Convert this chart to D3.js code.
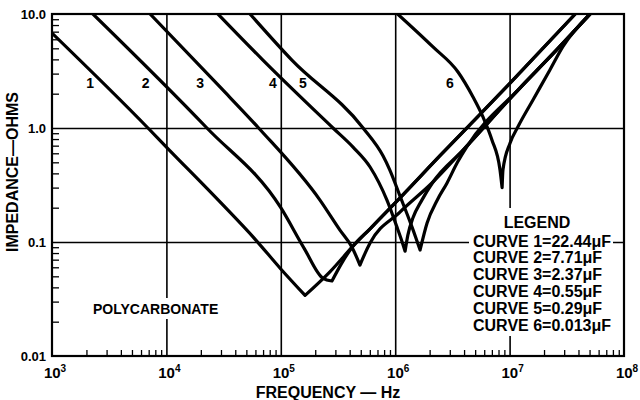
<!DOCTYPE html>
<html>
<head>
<meta charset="utf-8">
<script src="https://cdn.jsdelivr.net/npm/d3@7"></script>
<style>
  html, body { margin: 0; padding: 0; background: #fff; }
  svg { display: block; }
  text { font-family: "Liberation Sans", Arial, Helvetica, sans-serif; font-weight: bold; fill: #000; }
</style>
</head>
<body>
<svg id="chart" width="640" height="400"></svg>
<script>
// Impedance vs frequency of polycarbonate capacitors (log-log)
const curveIds = ["1", "2", "3", "4", "5", "6"];
const capacitance = ["22.44", "7.71", "2.37", "0.55", "0.29", "0.013"];

const curve1Freq = [1e3, 6.9e3, 1e4, 3e4, 6e4, 1e5, 1.63e5, 2.7e5, 4.2e5, 6e5, 1e6, 2.5e6, 1e7, 3.75e7];
const curve1Ohms = [6.8, 1.0, 0.68, 0.22, 0.105, 0.058, 0.034, 0.055, 0.09, 0.13, 0.22, 0.58, 2.45, 10];

const curve2Freq = [2.28e3, 2.26e4, 1e5, 1.6e5, 2.34e5, 2.8e5, 3.4e5, 4.2e5, 6e5, 1e6, 2.5e6, 1e7, 3.75e7];
const curve2Ohms = [10, 1.0, 0.2, 0.088, 0.048, 0.0455, 0.065, 0.09, 0.13, 0.22, 0.58, 2.45, 10];

const curve3Freq = [7.2e3, 2.94e4, 6.4e4, 2.2e5, 3.29e5, 4.19e5, 4.92e5, 5.4e5, 6.03e5, 1.1e6, 2.14e6, 3.92e6, 1.23e7, 2.25e7, 5.05e7];
const curve3Ohms = [10, 2.29, 1.0, 0.233, 0.127, 0.090, 0.0628, 0.078, 0.098, 0.183, 0.336, 0.64, 2.24, 4.2, 10];

const curve4Freq = [2.82e4, 6.98e4, 2.86e5, 4.28e5, 6.03e5, 8.47e5, 1.05e6, 1.15e6, 1.22e6, 1.29e6, 1.43e6, 1.71e6, 2.14e6, 3.92e6, 1.23e7, 2.25e7, 5.05e7];
const curve4Ohms = [10, 3.94, 1.0, 0.68, 0.455, 0.233, 0.13, 0.1, 0.083, 0.115, 0.163, 0.233, 0.336, 0.64, 2.24, 4.2, 10];

const curve5Freq = [5.38e4, 1.25e5, 5.24e5, 7.82e5, 8.96e5, 1.1e6, 1.35e6, 1.52e6, 1.65e6, 1.9e6, 2.34e6, 2.84e6, 3.5e6, 4.25e6, 1.23e7, 2.25e7, 5.05e7];
const curve5Ohms = [10, 3.94, 1.0, 0.57, 0.43, 0.254, 0.15, 0.108, 0.085, 0.147, 0.235, 0.33, 0.5, 0.69, 2.24, 4.2, 10];

const curve6Freq = [1.05e6, 2.14e6, 3.54e6, 4.79e6, 5.85e6, 7.01e6, 8.24e6, 8.6e6, 8.75e6, 1.01e7, 1.18e7, 1.6e7, 2.25e7, 2.93e7, 5.05e7];
const curve6Ohms = [10, 5.14, 3.1, 1.87, 1.25, 0.785, 0.43, 0.3, 0.43, 0.74, 1.02, 1.76, 3.23, 5.2, 10];

// where each curve number is lettered (frequency), all on one row
const labelFreq = [2.15e3, 6.6e3, 1.97e4, 8.55e4, 1.56e5, 3.0e6];
const labelRowOhms = 2.48;

const xTickValues = [1e3, 1e4, 1e5, 1e6, 1e7, 1e8];
const xTickExponents = ["3", "4", "5", "6", "7", "8"];
const yTickValues = [10, 1, 0.1, 0.01];
const yTickLabels = ["10.0", "1.0", "0.1", "0.01"];

const curveFreqs = [curve1Freq, curve2Freq, curve3Freq, curve4Freq, curve5Freq, curve6Freq];
const curveOhms = [curve1Ohms, curve2Ohms, curve3Ohms, curve4Ohms, curve5Ohms, curve6Ohms];

const svg = d3.select("#chart");
const plotLeft = 52, plotRight = 624, plotTop = 14, plotBottom = 356;

const x = d3.scaleLog().domain([1e3, 1e8]).range([plotLeft, plotRight]);
const y = d3.scaleLog().domain([0.01, 10]).range([plotBottom, plotTop]);

svg.append("rect").attr("width", 640).attr("height", 400).attr("fill", "#fff");

svg.append("defs").append("clipPath").attr("id", "plotClip")
  .append("rect").attr("x", plotLeft).attr("y", plotTop)
  .attr("width", plotRight - plotLeft).attr("height", plotBottom - plotTop);

// decade grid lines
const gridX = xTickValues.slice(1, -1);
const gridY = [1, 0.1];
svg.append("g")
  .attr("transform", `translate(0,${plotBottom})`)
  .call(d3.axisBottom(x).tickValues(gridX).tickSize(-(plotBottom - plotTop)).tickFormat(""))
  .call(g => g.select(".domain").remove())
  .call(g => g.selectAll("line").attr("stroke", "#000").attr("stroke-width", 1.6));
svg.append("g")
  .attr("transform", `translate(${plotLeft},0)`)
  .call(d3.axisLeft(y).tickValues(gridY).tickSize(-(plotRight - plotLeft)).tickFormat(""))
  .call(g => g.select(".domain").remove())
  .call(g => g.selectAll("line").attr("stroke", "#000").attr("stroke-width", 1.6));

// minor ticks (2..9 in every decade), pointing into the plot
const minorX = [];
for (let d = 1e3; d < 1e8; d *= 10) for (let k = 2; k <= 9; k++) minorX.push(d * k);
const minorY = [];
for (let d = 0.01; d < 10; d *= 10) for (let k = 2; k <= 9; k++) minorY.push(d * k);

svg.append("g")
  .attr("transform", `translate(0,${plotBottom})`)
  .call(d3.axisBottom(x).tickValues(minorX).tickSize(-6).tickFormat(""))
  .call(g => g.select(".domain").remove())
  .call(g => g.selectAll("line").attr("stroke", "#000").attr("stroke-width", 1.3));
svg.append("g")
  .attr("transform", `translate(${plotLeft},0)`)
  .call(d3.axisLeft(y).tickValues(minorY).tickSize(-7).tickFormat(""))
  .call(g => g.select(".domain").remove())
  .call(g => g.selectAll("line").attr("stroke", "#000").attr("stroke-width", 1.3));

// white panels behind the annotation texts
svg.append("rect").attr("x", 89).attr("y", 298).attr("width", 136).attr("height", 21).attr("fill", "#fff");
svg.append("rect").attr("x", 469).attr("y", 208).attr("width", 144).attr("height", 128).attr("fill", "#fff");

// curves: monotone spline on each side of the resonance dip, joined at the minimum
const lineGen = d3.line()
  .x(d => x(d[0]))
  .y(d => y(d[1]))
  .curve(d3.curveMonotoneX);

const curvesG = svg.append("g").attr("clip-path", "url(#plotClip)");
curveFreqs.forEach((freqs, i) => {
  const pts = freqs.map((f, j) => [f, curveOhms[i][j]]);
  const iMin = d3.minIndex(pts, d => d[1]);
  const fall = pts.slice(0, iMin + 1);
  const rise = pts.slice(iMin);
  const path = lineGen(fall) + lineGen(rise).replace(/^M/, "L");
  curvesG.append("path")
    .attr("d", path)
    .attr("fill", "none")
    .attr("stroke", "#000")
    .attr("stroke-width", 3.2)
    .attr("stroke-linejoin", "round")
    .attr("stroke-linecap", "round");
});

// plot frame
svg.append("rect")
  .attr("x", plotLeft).attr("y", plotTop)
  .attr("width", plotRight - plotLeft).attr("height", plotBottom - plotTop)
  .attr("fill", "none").attr("stroke", "#000").attr("stroke-width", 2.2);

// curve numbers
svg.append("g").selectAll("text")
  .data(curveIds)
  .join("text")
  .attr("x", (d, i) => x(labelFreq[i]))
  .attr("y", y(labelRowOhms))
  .attr("dy", "0.36em")
  .attr("text-anchor", "middle")
  .attr("font-size", 14)
  .text(d => d);

// y tick labels
svg.append("g").selectAll("text")
  .data(yTickValues)
  .join("text")
  .attr("x", plotLeft - 6)
  .attr("y", d => y(d))
  .attr("dy", "0.36em")
  .attr("text-anchor", "end")
  .attr("font-size", 13)
  .text((d, i) => yTickLabels[i]);

// x tick labels: powers of ten
const xLab = svg.append("g").selectAll("text")
  .data(xTickValues)
  .join("text")
  .attr("x", d => x(d) + 3)
  .attr("y", 378)
  .attr("text-anchor", "middle")
  .attr("font-size", 15);
xLab.append("tspan").text("10");
xLab.append("tspan").attr("dy", -6).attr("font-size", 10).text((d, i) => xTickExponents[i]);

// axis titles
svg.append("text")
  .attr("x", 328).attr("y", 398)
  .attr("text-anchor", "middle")
  .attr("font-size", 16)
  .text("FREQUENCY — Hz");
svg.append("text")
  .attr("transform", "translate(18,172) rotate(-90)")
  .attr("text-anchor", "middle")
  .attr("font-size", 16)
  .text("IMPEDANCE—OHMS");

// material note
svg.append("text")
  .attr("x", 93).attr("y", 314)
  .attr("font-size", 14)
  .text("POLYCARBONATE");

// legend
const legend = svg.append("g");
legend.append("text")
  .attr("x", 537).attr("y", 228)
  .attr("text-anchor", "middle")
  .attr("font-size", 16)
  .text("LEGEND");
legend.selectAll("text.row")
  .data(curveIds)
  .join("text")
  .attr("class", "row")
  .attr("x", 473)
  .attr("y", (d, i) => 246.5 + i * 16.8)
  .attr("font-size", 16)
  .text((d, i) => `CURVE ${d}=${capacitance[i]}\u03BCF`);
</script>
</body>
</html>
